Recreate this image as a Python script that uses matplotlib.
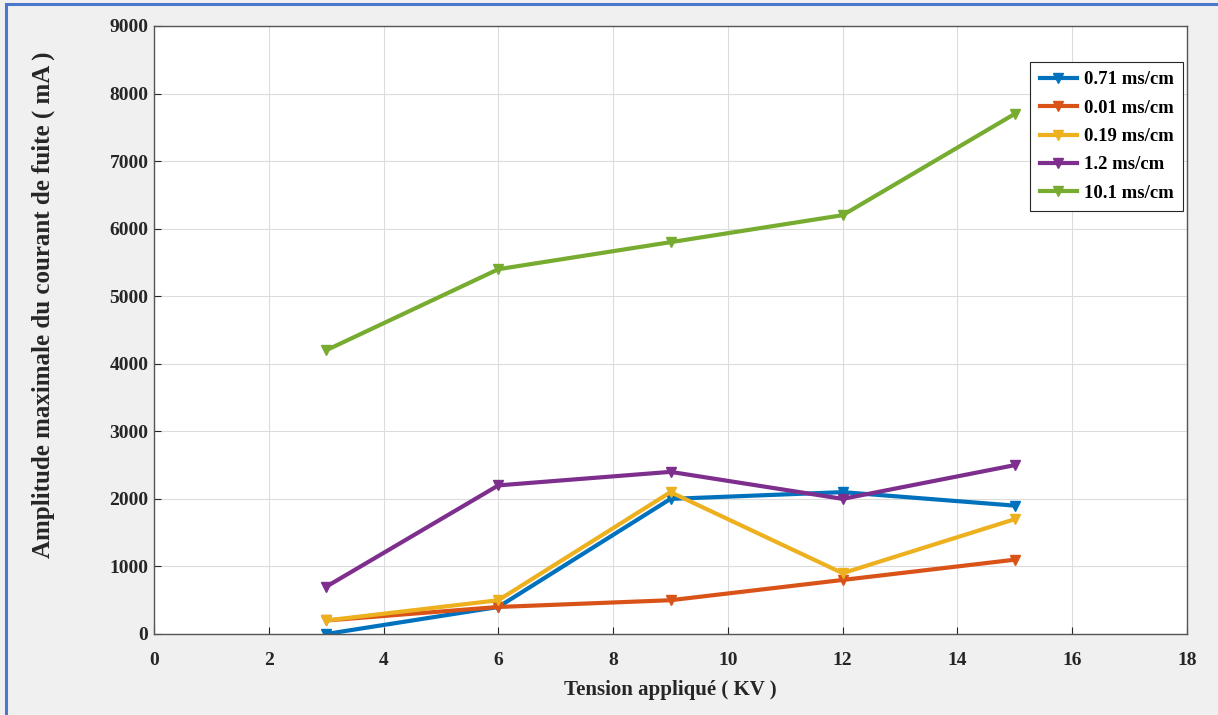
import matplotlib
matplotlib.use("Agg")
import matplotlib.pyplot as plt
from matplotlib.patches import Rectangle

x = [3, 6, 9, 12, 15]
labels = ["0.71 ms/cm", "0.01 ms/cm", "0.19 ms/cm", "1.2 ms/cm", "10.1 ms/cm"]
s071 = [0, 400, 2000, 2100, 1900]
s001 = [200, 400, 500, 800, 1100]
s019 = [200, 500, 2100, 900, 1700]
s12 = [700, 2200, 2400, 2000, 2500]
s101 = [4200, 5400, 5800, 6200, 7700]
series = [s071, s001, s019, s12, s101]
colors = ["#0072BD", "#D95319", "#EDB120", "#7E2F8E", "#77AC30"]
xticks = list(range(0, 19, 2))
yticks = list(range(0, 9001, 1000))

plt.rcParams['font.family'] = ['Liberation Serif', 'DejaVu Serif']
plt.rcParams['font.weight'] = 'bold'

fig = plt.figure(figsize=(12.18, 7.15), dpi=100, facecolor="#f0f0f0")
fig.patches.append(Rectangle((6/1218, -0.05), 1.2, 1.05 - 4/715, transform=fig.transFigure,
                             fill=False, edgecolor="#4a78cc", linewidth=2.2, zorder=0))
ax = fig.add_axes([154/1218, 1 - 634/715, (1187-154)/1218, (634-26)/715])
ax.set_facecolor("white")

for ys, lab, c in zip(series, labels, colors):
    ax.plot(x, ys, color=c, linewidth=3, marker='v', markersize=6.5, label=lab)

ax.set_xlim(0, 18)
ax.set_ylim(0, 9000)
ax.set_xticks(xticks)
ax.set_yticks(yticks)
ax.tick_params(direction='in', length=5, labelsize=14, colors="#262626", width=0.8)
for lbl in ax.get_xticklabels() + ax.get_yticklabels():
    lbl.set_fontweight('bold')
ax.tick_params(axis='x', pad=13)
ax.tick_params(axis='y', pad=4)
ax.grid(True, color="#dcdcdc", linewidth=0.8)
ax.set_axisbelow(True)
for sp in ax.spines.values():
    sp.set_color("#555555")
    sp.set_linewidth(1.0)

ax.set_xlabel("Tension appliqué ( KV )", fontsize=15, fontweight='bold', color="#262626", labelpad=8)
ax.set_ylabel("Amplitude maximale du courant de fuite ( mA )", fontsize=18, fontweight='bold',
              color="#262626")
ax.yaxis.set_label_coords(-(154 - 55) / 1033, (634 - 305) / 608)

leg = ax.legend(loc='upper right', bbox_to_anchor=(0.996, 0.941), borderaxespad=0,
                prop={'size': 13.5, 'weight': 'bold'},
                fancybox=False, framealpha=1, edgecolor="#262626", handlelength=2.0,
                borderpad=0.5, labelspacing=0.6, handletextpad=0.35)
leg.get_frame().set_linewidth(0.8)

fig.savefig("out.png", dpi=100, facecolor=fig.get_facecolor())
